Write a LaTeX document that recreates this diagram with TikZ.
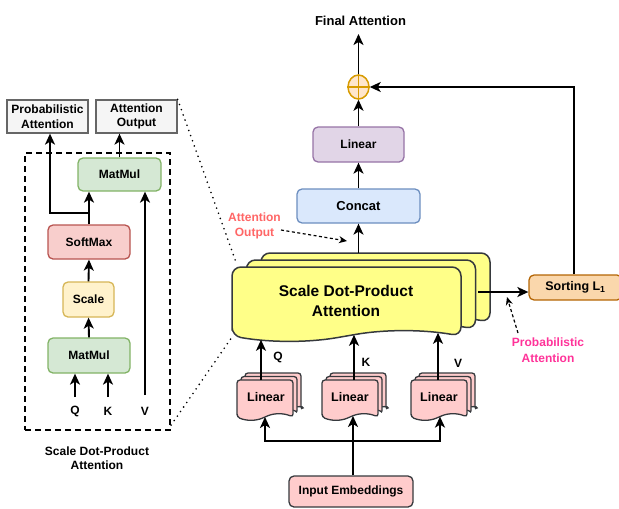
\documentclass[tikz,border=0pt]{standalone}
\usepackage{fontspec}
\setmainfont{Liberation Sans}
\usetikzlibrary{arrows.meta,shapes.geometric}
\definecolor{purF}{HTML}{E1D5E7}\definecolor{purD}{HTML}{9673A6}
\definecolor{bluF}{HTML}{DAE8FC}\definecolor{bluD}{HTML}{6C8EBF}
\definecolor{oraF}{HTML}{FAD7AC}\definecolor{oraD}{HTML}{B46504}
\definecolor{opF}{HTML}{FFE6CC}\definecolor{opD}{HTML}{D79B00}
\definecolor{grnF}{HTML}{D5E8D4}\definecolor{grnD}{HTML}{82B366}
\definecolor{redF}{HTML}{F8CECC}\definecolor{redD}{HTML}{B85450}
\definecolor{yelF}{HTML}{FFF2CC}\definecolor{yelD}{HTML}{D6B656}
\definecolor{gryF}{HTML}{F5F5F5}\definecolor{gryD}{HTML}{666666}
\definecolor{sdF}{HTML}{FFFF88}\definecolor{darkD}{HTML}{36393D}
\definecolor{linF}{HTML}{FFCCCC}
\definecolor{txtRed}{HTML}{FF6666}\definecolor{txtMag}{HTML}{FF3399}
\newcommand\docshp[6]{%
  \path[#1] (#2,#5) -- (#2,#3) -- (#4,#3) -- (#4,#5)
    .. controls ({#2+0.8333*(#4-#2)},{#5-1.3333*#6}) and ({#2+0.6667*(#4-#2)},{#5-1.3333*#6}) .. ({(#2+#4)/2},#5)
    .. controls ({#2+0.3333*(#4-#2)},{#5+1.3333*#6}) and ({#2+0.1667*(#4-#2)},{#5+1.3333*#6}) .. (#2,#5) -- cycle;}
\begin{document}
\begin{tikzpicture}[x=1pt,y=-1pt,
  fnt/.style={font=\bfseries\fontsize{12}{14.5}\selectfont},
  box/.style={draw, line width=1.3pt, rounded corners=5pt, inner sep=0pt, fnt, align=center},
  arr/.style={line width=1.9pt, -{Stealth[length=11pt,width=10pt,inset=3pt]}},
  dotl/.style={line width=1.8pt, line cap=round, dash pattern=on 0pt off 5.5pt},
  sdsty/.style={draw=darkD, fill=sdF, line width=1.5pt, rounded corners=9pt},
  linsty/.style={draw=darkD, fill=linF, line width=1.3pt, rounded corners=3pt}]
\useasboundingbox (0,0) rectangle (619,509);

% ---------------- left panel ----------------
\node[draw, line width=2.2pt, dash pattern=on 6pt off 4pt, minimum width=145pt, minimum height=277pt] (panel) at (97.5,291.5) {};
\node[box, rounded corners=0pt, draw=gryD, fill=gryF, minimum width=81pt, minimum height=33pt] (pa) at (47.5,116.5) {Probabilistic\\Attention};
\node[box, rounded corners=0pt, draw=gryD, fill=gryF, minimum width=81pt, minimum height=33pt] (ao) at (136.5,116.5) {Attention\\Output};
\node[box, draw=grnD, fill=grnF, minimum width=83pt, minimum height=33pt] (mm1) at (119.5,174.5) {MatMul};
\node[box, draw=redD, fill=redF, minimum width=82pt, minimum height=34pt] (sm) at (89,242) {SoftMax};
\node[box, draw=yelD, fill=yelF, minimum width=51pt, minimum height=35pt] (sc) at (88.5,299.5) {Scale};
\node[box, draw=grnD, fill=grnF, minimum width=82pt, minimum height=35pt] (mm2) at (89,355.5) {MatMul};
\node[fnt] (lq) at (75,411) {Q};
\node[fnt] (lk) at (108,411) {K};
\node[fnt] (lv) at (145,411) {V};
\node[fnt, align=center] (ptitle) at (97,458) {Scale Dot-Product\\Attention};

\coordinate (qin) at (75,397);
\coordinate (kin) at (108,397);
\coordinate (vin) at (145,395);
\coordinate (br) at (89,213);
\draw[arr] (qin) -- (qin |- mm2.south);
\draw[arr] (kin) -- (kin |- mm2.south);
\draw[arr] (vin) -- (vin |- mm1.south);
\draw[arr] (mm2.north) -- (sc.south);
\draw[arr] (sc.north) -- (sm.south);
\draw[arr] (sm.north) -- (sm.north |- mm1.south);
\draw[arr] (br) -| ([xshift=2.5pt]pa.south);
\draw[arr] (mm1.north) -- (mm1.north |- ao.south);

% ---------------- right part ----------------
% SDPA stack
\docshp{sdsty}{261}{253}{490}{322}{5}
\docshp{sdsty}{246.5}{260}{475.5}{329}{5}
\docshp{sdsty}{232}{267}{461}{336}{5}
\node[font=\bfseries\fontsize{15.5}{20}\selectfont, align=center] (sdpa) at (346,301) {Scale Dot-Product\\Attention};
\coordinate (sdq) at (261,339.8);
\coordinate (sdk) at (354,334.8);
\coordinate (sdv) at (438,332.8);
\coordinate (sdtop) at (358.5,253);
\coordinate (sdr) at (478,292);
\coordinate (sdtl) at (237,265);
\coordinate (sdbl) at (232,337);

% Linear stacks
\foreach \x in {237,322,411}{
  \docshp{linsty}{\x+8}{373}{\x+64}{410}{3}
  \docshp{linsty}{\x+4}{376.5}{\x+60}{413.5}{3}
  \docshp{linsty}{\x}{380}{\x+56}{417}{3}
}
\node[fnt, font=\bfseries\fontsize{12.5}{14}\selectfont] (linq) at (266,397) {Linear};
\node[fnt, font=\bfseries\fontsize{12.5}{14}\selectfont] (link) at (350,397) {Linear};
\node[fnt, font=\bfseries\fontsize{12.5}{14}\selectfont] (linv) at (439,397) {Linear};

\node[box, draw=darkD, fill=linF, minimum width=124pt, minimum height=31pt] (inp) at (351,491.5) {Input Embeddings};
\node[box, draw=bluD, fill=bluF, minimum width=123pt, minimum height=34pt, font=\bfseries\fontsize{13}{15}\selectfont] (concat) at (358.5,206) {Concat};
\node[box, draw=purD, fill=purF, minimum width=91pt, minimum height=35pt] (lin) at (358.5,144.5) {Linear};
\node[draw=opD, fill=opF, line width=1.5pt, ellipse, minimum width=21pt, minimum height=24pt, inner sep=0pt] (op) at (358.5,87) {};
\draw[opD, line width=1.3pt] (op.north) -- (op.south) (op.west) -- (op.east);
\node[font=\bfseries\fontsize{13}{15}\selectfont] (final) at (360.5,21) {Final Attention};
\coordinate (ftip) at (358.5,34);
\node[box, draw=oraD, fill=oraF, minimum width=93pt, minimum height=25pt, font=\bfseries\fontsize{12.5}{14}\selectfont] (sort) at (575.5,287.5) {Sorting L\textsubscript{1}};

% Q K V arrows
\coordinate (lqt) at (261,380);
\coordinate (lkt) at (354,380);
\coordinate (lvt) at (438,380);
\draw[arr] (lqt) -- (sdq);
\draw[arr] (lkt) -- (sdk);
\draw[arr] (lvt) -- (sdv);
\node[fnt] (tq) at (278,357) {Q};
\node[fnt] (tk) at (366,362) {K};
\node[fnt] (tv) at (458,363) {V};

% input fan-out
\coordinate (kb) at (353,416);
\coordinate (qb) at (265,417);
\coordinate (vb) at (440,416.6);
\coordinate (hj) at (353,441);
\draw[arr] ([xshift=2pt]inp.north) -- (kb);
\draw[arr] (hj) -| (qb);
\draw[arr] (hj) -| (vb);

% top chain
\draw[arr] (sdtop) -- (concat.south);
\draw[arr] (concat.north) -- (lin.south);
\draw[arr] (lin.north) -- (op.south);
\draw[arr] (op.north) -- (ftip);
\draw[arr] (sdr) -- (sdr -| sort.west);
\draw[arr] ([xshift=-1.5pt]sort.north) |- (op.east);

% annotations
\node[font=\bfseries\fontsize{12}{15}\selectfont, text=txtRed, align=center] (aotxt) at (254.5,225.5) {Attention\\Output};
\node[font=\bfseries\fontsize{12}{16}\selectfont, text=txtMag, align=center] (patxt) at (548,350) {Probabilistic\\Attention};
\coordinate (aos) at (281,230);
\coordinate (aoe) at (347,241);
\draw[line width=1.2pt, dash pattern=on 3pt off 2.5pt, -{Stealth[length=8pt,width=7pt,inset=2.5pt]}] (aos) -- (aoe);
\coordinate (pas) at (518,333);
\coordinate (pae) at (507,297);
\draw[line width=1.2pt, dash pattern=on 3pt off 2.5pt, -{Stealth[length=8pt,width=7pt,inset=2.5pt]}] (pas) -- (pae);

% dotted zoom lines
\draw[dotl] (ao.north east) -- (sdtl);
\draw[dotl] ([yshift=6pt]panel.south east) -- (sdbl);
\end{tikzpicture}
\end{document}
